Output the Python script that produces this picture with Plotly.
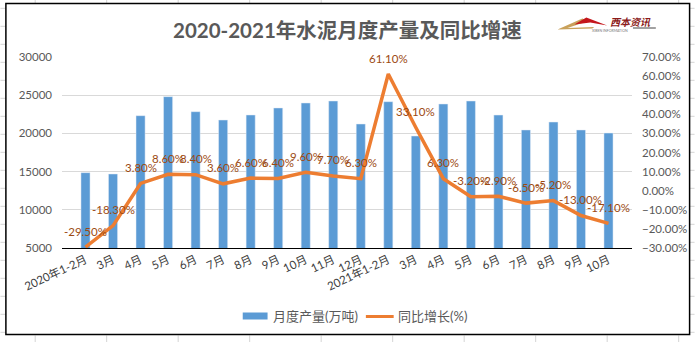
import plotly.graph_objects as go

# ---------------- data ----------------
periods = ["2020-01/02", "2020-03", "2020-04", "2020-05", "2020-06", "2020-07",
           "2020-08", "2020-09", "2020-10", "2020-11", "2020-12",
           "2021-01/02", "2021-03", "2021-04", "2021-05", "2021-06", "2021-07",
           "2021-08", "2021-09", "2021-10"]
tick_labels = ["2020年1-2月", "3月", "4月", "5月", "6月", "7月", "8月", "9月", "10月",
               "11月", "12月", "2021年1-2月", "3月", "4月", "5月", "6月", "7月", "8月",
               "9月", "10月"]
output = [14860, 14690, 22320, 24810, 22840, 21750, 22410, 23330, 23980, 24240,
          21230, 24150, 19660, 23850, 24240, 22400, 20450, 21490, 20450, 20050]
growth = [-29.5, -18.3, 3.8, 8.6, 8.4, 3.6, 6.6, 6.4, 9.6, 7.7,
          6.3, 61.1, 33.1, 6.3, -3.2, -2.9, -6.5, -5.2, -13.0, -17.1]

title_text = "2020-2021年水泥月度产量及同比增速"
bar_name = "月度产量(万吨)"
line_name = "同比增长(%)"

# ---------------- layout geometry ----------------
W, H = 699, 342
L, R, T, B = 62, 63, 57, 94
PW, PH = W - L - R, H - T - B

def px(x):
    return (x - L) / PW

def py(y):
    return (H - B - y) / PH

BLUE = "#5B9BD5"
ORANGE = "#ED7D31"
LABEL = "#9C4A12"
GREY = "#595959"
FONT = "Lato, 'Noto Sans CJK SC', sans-serif"

fig = go.Figure()
fig.add_trace(go.Bar(x=periods, y=output, name=bar_name, marker_color=BLUE,
                     showlegend=False, yaxis="y"))
fig.add_trace(go.Scatter(x=periods, y=growth, name=line_name, mode="lines",
                         line=dict(color=ORANGE, width=3.5), showlegend=False,
                         yaxis="y2"))

annotations = []
for p, g in zip(periods, growth):
    annotations.append(dict(x=p, y=g, xref="x", yref="y2", text=f"{g:.2f}%",
                            showarrow=False, yshift=16,
                            font=dict(family=FONT, size=11.5, color=LABEL)))

# title
annotations.append(dict(x=px(349), y=py(30), xref="paper", yref="paper",
                        text=f"<b>{title_text}</b>", showarrow=False,
                        xanchor="center", yanchor="middle",
                        font=dict(family=FONT, size=20.5, color=GREY)))
# legend texts
annotations.append(dict(x=px(272), y=py(316), xref="paper", yref="paper",
                        text=bar_name, showarrow=False, xanchor="left",
                        yanchor="middle", font=dict(family=FONT, size=13, color=GREY)))
annotations.append(dict(x=px(398), y=py(316), xref="paper", yref="paper",
                        text=line_name, showarrow=False, xanchor="left",
                        yanchor="middle", font=dict(family=FONT, size=13, color=GREY)))
# logo texts
annotations.append(dict(x=px(612), y=py(21.5), xref="paper", yref="paper",
                        text="<b><i>西本资讯</i></b>", showarrow=False, xanchor="left",
                        yanchor="middle",
                        font=dict(family="'Noto Sans CJK SC'", size=10, color="#8B1A1A")))
annotations.append(dict(x=px(594), y=py(30.5), xref="paper", yref="paper",
                        text="XIBEN INFORMATION", showarrow=False, xanchor="left",
                        yanchor="middle",
                        font=dict(family=FONT, size=3.5, color="#777777")))

shapes = []
# Excel sheet gridlines outside the chart frame
for k in range(19):
    y = 8.3 + 18 * k
    shapes.append(dict(type="line", xref="paper", yref="paper", x0=px(0), x1=px(5.5),
                       y0=py(y), y1=py(y), line=dict(color="#D4D4D4", width=1), layer="below"))
    shapes.append(dict(type="line", xref="paper", yref="paper", x0=px(694), x1=px(699),
                       y0=py(y), y1=py(y), line=dict(color="#D4D4D4", width=1), layer="below"))
for k in range(10):
    x = 35 + 72 * k
    shapes.append(dict(type="line", xref="paper", yref="paper", x0=px(x), x1=px(x),
                       y0=py(0), y1=py(3), line=dict(color="#D4D4D4", width=1), layer="below"))
    shapes.append(dict(type="line", xref="paper", yref="paper", x0=px(x), x1=px(x),
                       y0=py(335.5), y1=py(342), line=dict(color="#D4D4D4", width=1), layer="below"))
# chart frame
shapes.append(dict(type="rect", xref="paper", yref="paper", x0=px(5.5), x1=px(694),
                   y0=py(334.5), y1=py(3.5), line=dict(color="#000000", width=1.5)))
# legend swatches
shapes.append(dict(type="rect", xref="paper", yref="paper", x0=px(244), x1=px(269),
                   y0=py(319.5), y1=py(312.5), line=dict(width=0), fillcolor=BLUE))
shapes.append(dict(type="line", xref="paper", yref="paper", x0=px(368), x1=px(396),
                   y0=py(316.5), y1=py(316.5), line=dict(color=ORANGE, width=3)))

# logo roof shapes
def path(pts):
    s = "M " + " L ".join(f"{px(a)},{py(b)}" for a, b in pts) + " Z"
    return s

shapes.append(dict(type="path", xref="paper", yref="paper",
                   path=path([(561, 29.5), (586, 18.5), (592, 21), (571, 28), (598, 27), (596, 28.5)]),
                   fillcolor="#C9A15A", line=dict(width=0)))
shapes.append(dict(type="path", xref="paper", yref="paper",
                   path=path([(578, 24.5), (590, 17.5), (611, 25.5), (594, 22.5)]),
                   fillcolor="#C4161C", line=dict(width=0)))
shapes.append(dict(type="line", xref="paper", yref="paper", x0=px(637), x1=px(660),
                   y0=py(28), y1=py(28), line=dict(color="#444444", width=1)))

fig.update_layout(
    width=W, height=H,
    margin=dict(l=L, r=R, t=T, b=B, pad=0),
    paper_bgcolor="white", plot_bgcolor="white",
    bargap=0.67,
    font=dict(family=FONT, size=11, color=GREY),
    xaxis=dict(type="category", tickmode="array", tickvals=periods, ticktext=tick_labels,
               tickangle=-25, showgrid=False, showline=True, linecolor="#000000",
               linewidth=1, ticks="", tickfont=dict(family=FONT, size=11.5, color="#404040")),
    yaxis=dict(range=[5000, 30000], dtick=5000, tick0=5000, showgrid=True,
               gridcolor="#D9D9D9", gridwidth=1, zeroline=False, showline=False,
               ticks="", ticklabelstandoff=9, tickformat="d",
               tickfont=dict(family=FONT, size=11.5, color=GREY)),
    yaxis2=dict(range=[-30, 70], dtick=10, tick0=-30, overlaying="y", side="right",
                showgrid=False, zeroline=False, showline=False, ticks="",
                tickformat=".2f", ticksuffix="%", ticklabelstandoff=9,
                tickfont=dict(family=FONT, size=11.5, color=GREY)),
    annotations=annotations,
    shapes=shapes,
    showlegend=False,
)

fig.write_html("out.html")
